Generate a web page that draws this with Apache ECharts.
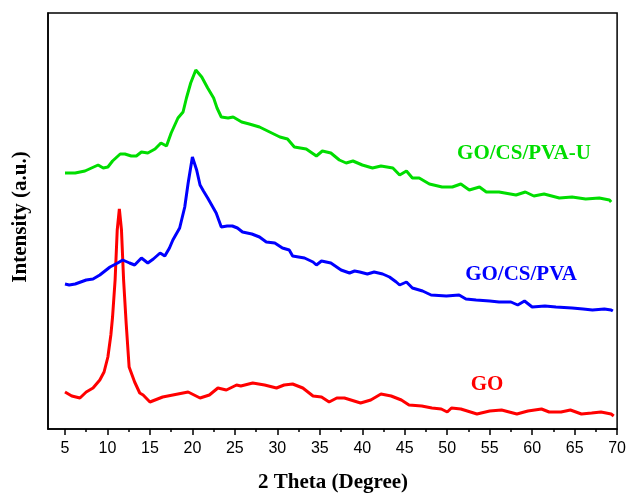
<!DOCTYPE html>
<html>
<head>
<meta charset="utf-8">
<script src="https://cdn.jsdelivr.net/npm/echarts@6/dist/echarts.min.js"></script>
<style>html,body{margin:0;padding:0;background:#fff;}#c{width:629px;height:493px;}</style>
</head>
<body>
<div id="c"></div>
<script>
// 2 Theta values (degree) and intensities (a.u., offset stacked)
const goX = [5,5.8,6.76,7.5,8.3,9.1,9.6,10.05,10.4,10.6,10.9,11.15,11.4,11.65,11.9,12.2,12.55,13.2,13.8,14.2,15.0,15.6,16.5,17.7,19.5,20.9,22,23,24,25.2,25.7,27.1,28.5,29.9,30.8,31.8,33,34.2,35.2,36.1,37,37.9,39.8,41,42.2,43.4,44.6,45.5,47,48.2,49.3,50,50.5,51.6,53.5,55,56.4,58.2,59.5,61.1,62,63.4,64.5,65.8,67,68.1,69.3,69.6];
const goY = [37,33,31,37,41,49,57,72,94,112,149,199,220,199,149,106,62,47,36,34,27,29,32,34,37,31,34,41,39,44,43,46,44,41,44,45,41,33,32,27,31,31,26,29,35,33,29,24,23,21,20,17,21,20,15,18,19,15,18,20,17,17,19,15,16,17,15,13];

const pvaX = [5,5.5,6.2,7.5,8.3,9.1,10.3,11.2,11.8,12.6,13.2,14.0,14.75,15.4,16.2,16.75,17.3,17.7,18.5,19.1,19.5,20.0,20.5,20.9,21.3,21.8,22.8,23.4,24.1,24.7,25.3,25.9,27,27.9,28.7,29.7,30.6,31.4,31.8,33.2,34.2,34.6,35.2,36.3,37.5,38.5,39.1,39.7,40.6,41.4,42.4,43.2,44.0,44.4,45.2,45.9,47.1,48.1,49.9,51.4,52.2,53.4,55,56.1,57.5,58.3,59.1,60.0,61.5,62.8,64.7,66,67.1,68.5,69.3,69.5];
const pvaY = [145,144,145,149,150,154,162,166,169,166,164,171,166,170,176,173,181,189,201,222,246,272,259,244,238,231,216,202,203,203,201,197,195,192,187,186,181,179,173,171,167,164,168,166,159,156,158,157,155,157,155,152,147,144,147,141,138,134,133,134,130,129,128,127,127,124,128,122,123,122,121,120,119,120,119,118];

const pvauX = [5,6.2,7.35,8.9,9.5,10.05,10.6,11.5,12.05,12.8,13.4,14.0,14.75,15.6,16.3,16.95,17.5,18.3,18.9,19.3,19.8,20.4,21.1,21.8,22.5,22.9,23.4,24.2,24.8,25.8,26.7,27.9,29.1,30.3,31.2,32.0,33.4,34.6,35.3,36.3,37.3,38.1,38.9,40.0,41.2,42.2,43.6,44.4,45.2,45.9,46.7,47.9,49.4,50.6,51.6,52.6,53.8,54.6,56.1,58.1,59.2,60.2,61.4,63.2,64.7,66.3,67.9,69.1,69.3];
const pvauY = [256,256,258,264,261,262,268,275,275,273,273,277,276,280,286,283,296,311,317,331,346,359,352,341,331,321,312,311,312,307,305,302,297,292,290,282,280,273,278,276,269,266,268,264,261,263,261,254,258,251,251,245,242,242,245,239,242,237,237,234,237,233,235,231,232,230,231,229,227];

const majorTicks = [5,10,15,20,25,30,35,40,45,50,55,60,65,70];
const minorTicks = [7.5,12.5,17.5,22.5,27.5,32.5,37.5,42.5,47.5,52.5,57.5,62.5,67.5];
const seriesNames = ['GO', 'GO/CS/PVA', 'GO/CS/PVA-U'];

function pairs(xs, ys) { return xs.map((x, i) => [x, ys[i]]); }

const chart = echarts.init(document.getElementById('c'), null, {renderer: 'canvas'});
const serif = '"Liberation Serif", "Times New Roman", serif';
chart.setOption({
  animation: false,
  backgroundColor: '#fff',
  grid: {left: 48, right: 11, top: 13, bottom: 64, show: true, borderColor: '#000', borderWidth: 1.5, backgroundColor: 'transparent'},
  xAxis: [{
    type: 'value', min: 3, max: 70, position: 'bottom',
    axisLine: {show: true, onZero: false, lineStyle: {color: '#000', width: 1.5}},
    axisTick: {show: true, inside: false, length: 6, customValues: majorTicks, lineStyle: {color: '#000', width: 1.5}},
    axisLabel: {show: true, customValues: majorTicks, margin: 12, fontSize: 16, color: '#000', fontFamily: '"Liberation Sans", Arial, sans-serif'},
    splitLine: {show: false}
  }, {
    type: 'value', min: 3, max: 70, position: 'bottom',
    axisLine: {show: false},
    axisTick: {show: true, inside: false, length: 3, customValues: minorTicks, lineStyle: {color: '#000', width: 1.5}},
    axisLabel: {show: false},
    splitLine: {show: false}
  }],
  yAxis: {
    type: 'value', min: 0, max: 416,
    axisLine: {show: true, lineStyle: {color: '#000', width: 1.5}},
    axisTick: {show: false}, axisLabel: {show: false}, splitLine: {show: false}
  },
  series: [
    {name: seriesNames[0], type: 'line', data: pairs(goX, goY), showSymbol: false, lineStyle: {color: '#ff0000', width: 3}, itemStyle: {color: '#ff0000'}},
    {name: seriesNames[1], type: 'line', data: pairs(pvaX, pvaY), showSymbol: false, lineStyle: {color: '#0000ff', width: 3}, itemStyle: {color: '#0000ff'}},
    {name: seriesNames[2], type: 'line', data: pairs(pvauX, pvauY), showSymbol: false, lineStyle: {color: '#00dd00', width: 3}, itemStyle: {color: '#00dd00'}}
  ],
  graphic: [
    {type: 'text', x: 333, y: 483, style: {text: '2 Theta (Degree)', font: 'bold 21px ' + serif, fill: '#000', align: 'center', verticalAlign: 'middle'}},
    {type: 'text', x: 21, y: 217, rotation: Math.PI / 2, style: {text: 'Intensity (a.u.)', font: 'bold 21px ' + serif, fill: '#000', align: 'center', verticalAlign: 'middle'}},
    {type: 'text', x: 524, y: 154, style: {text: seriesNames[2], font: 'bold 21px ' + serif, fill: '#00dd00', align: 'center', verticalAlign: 'middle'}},
    {type: 'text', x: 521, y: 275, style: {text: seriesNames[1], font: 'bold 21px ' + serif, fill: '#0000ff', align: 'center', verticalAlign: 'middle'}},
    {type: 'text', x: 487, y: 385, style: {text: seriesNames[0], font: 'bold 21px ' + serif, fill: '#ff0000', align: 'center', verticalAlign: 'middle'}}
  ]
});
</script>
</body>
</html>
